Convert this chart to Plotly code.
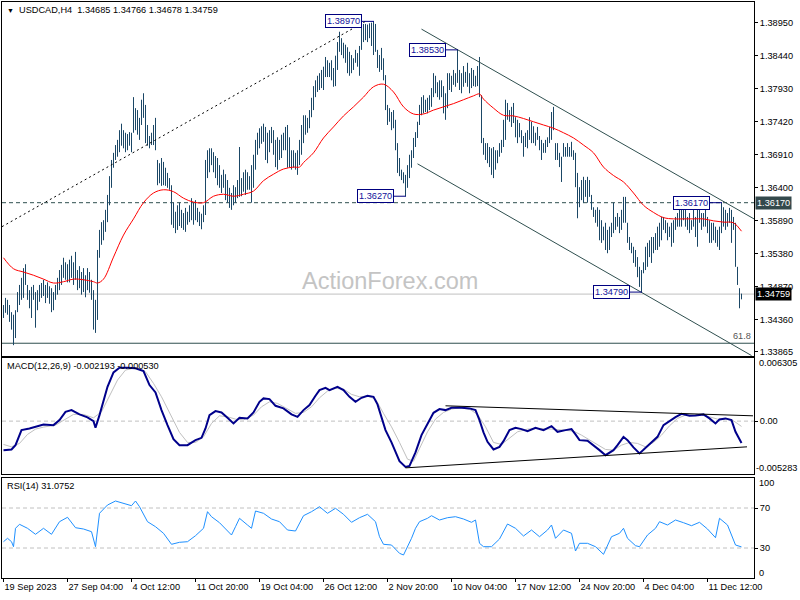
import plotly.graph_objects as go

# ---------------- DATA ----------------
HIGH = [1.3459,1.3470,1.3467,1.3459,1.3448,1.3444,1.3451,1.3479,1.3490,1.3501,
1.3516,1.3522,1.3490,1.3482,1.3487,1.3490,1.3479,1.3482,1.3490,1.3493,
1.3498,1.3490,1.3494,1.3488,1.3485,1.3479,1.3490,1.3501,1.3513,1.3521,
1.3532,1.3525,1.3522,1.3529,1.3535,1.3525,1.3541,1.3513,1.3519,1.3510,
1.3516,1.3505,1.3516,1.3510,1.3498,1.3482,1.3467,1.3544,1.3575,1.3587,
1.3590,1.3606,1.3629,1.3658,1.3683,1.3694,1.3706,1.3714,1.3729,1.3739,
1.3729,1.3725,1.3723,1.3726,1.3725,1.3780,1.3763,1.3760,1.3748,1.3776,
1.3786,1.3768,1.3737,1.3720,1.3725,1.3737,1.3748,1.3683,1.3678,1.3686,
1.3680,1.3671,1.3663,1.3655,1.3644,1.3617,1.3603,1.3613,1.3617,1.3606,
1.3601,1.3609,1.3603,1.3613,1.3624,1.3617,1.3621,1.3609,1.3603,1.3600,
1.3613,1.3683,1.3698,1.3701,1.3701,1.3695,1.3689,1.3686,1.3675,1.3660,
1.3668,1.3661,1.3652,1.3640,1.3632,1.3644,1.3641,1.3652,1.3703,1.3655,
1.3664,1.3668,1.3664,1.3658,1.3675,1.3691,1.3714,1.3725,1.3732,1.3735,
1.3739,1.3734,1.3725,1.3729,1.3734,1.3729,1.3714,1.3718,1.3714,1.3722,
1.3725,1.3734,1.3737,1.3718,1.3698,1.3698,1.3694,1.3698,1.3714,1.3737,
1.3752,1.3752,1.3748,1.3760,1.3779,1.3797,1.3806,1.3813,1.3817,1.3822,
1.3827,1.3842,1.3837,1.3833,1.3837,1.3825,1.3844,1.3865,1.3881,1.3871,
1.3864,1.3861,1.3857,1.3850,1.3845,1.3840,1.3853,1.3848,1.3859,1.3887,
1.3893,1.3893,1.3892,1.3894,1.3895,1.3897,1.3893,1.3853,1.3845,1.3856,
1.3840,1.3814,1.3768,1.3763,1.3757,1.3760,1.3745,1.3709,1.3686,1.3668,
1.3664,1.3660,1.3675,1.3691,1.3698,1.3717,1.3726,1.3742,1.3768,1.3780,
1.3783,1.3776,1.3779,1.3783,1.3794,1.3817,1.3813,1.3803,1.3806,1.3806,
1.3797,1.3786,1.3817,1.3817,1.3813,1.3822,1.3817,1.3853,1.3822,1.3817,
1.3828,1.3819,1.3833,1.3817,1.3825,1.3822,1.3813,1.3828,1.3842,1.3783,
1.3717,1.3709,1.3709,1.3703,1.3701,1.3703,1.3698,1.3698,1.3709,1.3714,
1.3745,1.3776,1.3771,1.3760,1.3765,1.3771,1.3749,1.3745,1.3740,1.3729,
1.3720,1.3725,1.3729,1.3749,1.3742,1.3735,1.3725,1.3734,1.3720,1.3714,
1.3709,1.3714,1.3718,1.3734,1.3757,1.3765,1.3709,1.3709,1.3694,1.3688,
1.3709,1.3703,1.3709,1.3703,1.3711,1.3698,1.3694,1.3663,1.3641,1.3652,
1.3657,1.3652,1.3657,1.3652,1.3629,1.3610,1.3606,1.3610,1.3606,1.3590,
1.3580,1.3586,1.3575,1.3580,1.3586,1.3617,1.3595,1.3601,1.3595,1.3606,
1.3626,1.3626,1.3586,1.3564,1.3555,1.3549,1.3544,1.3533,1.3518,1.3513,
1.3525,1.3549,1.3555,1.3559,1.3564,1.3564,1.3570,1.3580,1.3586,1.3595,
1.3595,1.3590,1.3586,1.3580,1.3586,1.3590,1.3595,1.3601,1.3606,1.3610,
1.3617,1.3610,1.3595,1.3601,1.3590,1.3606,1.3595,1.3610,1.3606,1.3601,
1.3601,1.3606,1.3595,1.3590,1.3586,1.3586,1.3580,1.3575,1.3580,1.3617,
1.3610,1.3606,1.3601,1.3609,1.3606,1.3595,1.3586,1.3518,1.3485,1.34766]

LOW = [1.3439,1.3447,1.3444,1.3433,1.3421,1.3397,1.3408,1.3448,1.3459,1.3467,
1.3470,1.3490,1.3467,1.3454,1.3439,1.3467,1.3424,1.3451,1.3464,1.3470,
1.3473,1.3462,1.3470,1.3461,1.3448,1.3451,1.3467,1.3475,1.3482,1.3490,
1.3501,1.3498,1.3494,1.3494,1.3501,1.3490,1.3498,1.3482,1.3485,1.3475,
1.3479,1.3471,1.3482,1.3478,1.3467,1.3421,1.3416,1.3436,1.3532,1.3552,
1.3559,1.3572,1.3587,1.3613,1.3640,1.3671,1.3683,1.3688,1.3695,1.3705,
1.3701,1.3695,1.3698,1.3705,1.3695,1.3725,1.3729,1.3722,1.3714,1.3737,
1.3748,1.3709,1.3705,1.3701,1.3706,1.3706,1.3698,1.3644,1.3647,1.3643,
1.3644,1.3643,1.3640,1.3637,1.3583,1.3578,1.3570,1.3575,1.3581,1.3578,
1.3575,1.3572,1.3583,1.3587,1.3590,1.3583,1.3590,1.3587,1.3581,1.3576,
1.3587,1.3598,1.3655,1.3664,1.3675,1.3664,1.3655,1.3644,1.3640,1.3632,
1.3640,1.3621,1.3617,1.3609,1.3606,1.3613,1.3617,1.3624,1.3626,1.3627,
1.3634,1.3629,1.3637,1.3637,1.3617,1.3640,1.3668,1.3691,1.3701,1.3708,
1.3711,1.3683,1.3678,1.3695,1.3709,1.3691,1.3672,1.3668,1.3683,1.3686,
1.3698,1.3698,1.3671,1.3672,1.3668,1.3671,1.3668,1.3660,1.3675,1.3691,
1.3709,1.3722,1.3725,1.3732,1.3749,1.3760,1.3780,1.3788,1.3791,1.3794,
1.3791,1.3811,1.3811,1.3811,1.3806,1.3796,1.3797,1.3822,1.3850,1.3845,
1.3840,1.3833,1.3817,1.3813,1.3817,1.3822,1.3833,1.3827,1.3813,1.3853,
1.3865,1.3868,1.3865,1.3871,1.3859,1.3845,1.3850,1.3825,1.3819,1.3822,
1.3806,1.3760,1.3737,1.3742,1.3729,1.3732,1.3698,1.3663,1.3658,1.3652,
1.3647,1.3627,1.3640,1.3655,1.3671,1.3686,1.3703,1.3717,1.3737,1.3752,
1.3755,1.3757,1.3755,1.3760,1.3765,1.3780,1.3786,1.3780,1.3776,1.3780,
1.3755,1.3745,1.3763,1.3791,1.3788,1.3799,1.3796,1.3802,1.3791,1.3786,
1.3796,1.3802,1.3796,1.3786,1.3794,1.3797,1.3796,1.3797,1.3780,1.3709,
1.3691,1.3683,1.3678,1.3672,1.3660,1.3655,1.3668,1.3678,1.3688,1.3694,
1.3703,1.3714,1.3745,1.3742,1.3734,1.3740,1.3718,1.3709,1.3718,1.3709,
1.3688,1.3703,1.3701,1.3714,1.3709,1.3709,1.3705,1.3714,1.3698,1.3683,
1.3694,1.3694,1.3703,1.3709,1.3714,1.3729,1.3683,1.3683,1.3672,1.3649,
1.3688,1.3688,1.3688,1.3688,1.3688,1.3683,1.3641,1.3593,1.3610,1.3621,
1.3617,1.3626,1.3617,1.3626,1.3606,1.3595,1.3586,1.3580,1.3559,1.3555,
1.3559,1.3544,1.3539,1.3544,1.3564,1.3570,1.3575,1.3580,1.3570,1.3575,
1.3586,1.3586,1.3555,1.3544,1.3539,1.3524,1.3518,1.3502,1.3487,1.3479,
1.3508,1.3513,1.3518,1.3533,1.3524,1.3539,1.3544,1.3544,1.3549,1.3559,
1.3575,1.3570,1.3559,1.3564,1.3549,1.3555,1.3575,1.3580,1.3580,1.3580,
1.3590,1.3580,1.3575,1.3570,1.3575,1.3580,1.3564,1.3549,1.3586,1.3575,
1.3580,1.3580,1.3570,1.3555,1.3555,1.3559,1.3555,1.3549,1.3544,1.3570,
1.3580,1.3575,1.3580,1.3586,1.3555,1.3575,1.3518,1.3490,1.3454,1.34678]

MA_IDX = [0,5,10,15,20,25,30,35,40,45,47,50,55,60,65,70,75,80,85,90,
95,100,105,110,115,120,125,130,135,140,145,148,150,155,160,165,170,175,180,185,
190,195,200,205,210,215,220,225,230,235,238,240,245,250,255,260,265,270,275,280,
285,290,295,300,305,310,315,320,325,330,335,340,345,350,355,360,365,369]
MA_VAL = [1.3532,1.3515,1.3510,1.3505,1.3499,1.3493,1.3495,1.3499,1.3498,1.3495,
1.3493,1.3499,1.3533,1.3567,1.3592,1.3617,1.3632,1.3637,1.3634,1.3624,
1.3618,1.3617,1.3627,1.3630,1.3627,1.3630,1.3635,1.3651,1.3661,1.3669,
1.3672,1.3672,1.3679,1.3694,1.3717,1.3734,1.3751,1.3765,1.3780,1.3796,
1.3800,1.3788,1.3765,1.3754,1.3754,1.3760,1.3765,1.3770,1.3776,1.3782,
1.3785,1.3777,1.3763,1.3752,1.3751,1.3747,1.3742,1.3737,1.3732,1.3725,
1.3717,1.3706,1.3694,1.3672,1.3659,1.3649,1.3632,1.3613,1.3602,1.3594,
1.3592,1.3592,1.3592,1.3592,1.3589,1.3587,1.3586,1.3573]

MACD_IDX = [0,4,6,9,13,16,20,25,28,31,34,38,42,45,46,48,52,55,58,62,
66,70,73,76,79,82,85,88,92,96,99,101,103,106,109,112,115,118,122,125,
128,130,133,136,140,144,147,150,153,156,158,161,163,167,170,173,176,179,182,185,
187,191,194,198,201,203,206,209,212,215,218,221,224,228,233,236,238,240,242,245,
248,250,253,256,259,262,266,270,274,277,281,284,286,288,292,295,298,301,305,307,
310,312,315,318,321,324,327,330,333,336,339,343,346,350,353,356,358,361,364,366,369]
MACD_VAL = [-0.00290,-0.00283,-0.00240,-0.00090,-0.00073,-0.00057,-0.00033,-0.00040,0.00010,0.00093,
0.00110,0.00067,0.00037,0.00000,-0.00067,0.00060,0.00343,0.00487,0.00533,0.00533,
0.00527,0.00500,0.00360,0.00287,0.00110,-0.00040,-0.00180,-0.00240,-0.00240,-0.00190,
-0.00167,-0.00073,0.00060,0.00100,0.00087,0.00033,-0.00023,0.00033,0.00027,0.00087,
0.00193,0.00227,0.00220,0.00153,0.00127,0.00067,0.00043,0.00110,0.00160,0.00253,
0.00310,0.00333,0.00310,0.00343,0.00310,0.00243,0.00193,0.00233,0.00253,0.00243,
0.00167,-0.00090,-0.00213,-0.00400,-0.00457,-0.00447,-0.00313,-0.00140,-0.00023,0.00083,
0.00120,0.00110,0.00133,0.00137,0.00127,0.00110,0.00010,-0.00113,-0.00207,-0.00283,
-0.00257,-0.00200,-0.00090,-0.00067,-0.00080,-0.00100,-0.00067,-0.00090,-0.00050,-0.00107,
-0.00090,-0.00080,-0.00133,-0.00190,-0.00197,-0.00240,-0.00290,-0.00340,-0.00290,-0.00240,
-0.00157,-0.00190,-0.00263,-0.00323,-0.00267,-0.00213,-0.00157,-0.00040,0.00003,0.00040,
0.00073,0.00053,0.00057,0.00067,0.00027,-0.00023,0.00017,0.00027,0.00010,-0.00107,-0.002193]

SIG_IDX = [0,4,8,12,16,20,26,30,35,40,45,49,53,57,61,66,71,75,79,84,
88,92,96,100,104,108,112,116,120,125,129,133,137,141,146,150,154,158,162,166,
170,174,178,182,186,190,194,198,202,205,208,212,216,220,224,228,233,237,241,245,
249,253,257,262,268,274,280,285,289,293,297,301,305,309,313,317,321,325,329,333,
337,341,345,349,353,357,361,365,369]
SIG_VAL = [-0.00233,-0.00257,-0.00223,-0.00133,-0.00080,-0.00060,-0.00040,0.00010,0.00067,0.00067,
0.00033,0.00093,0.00260,0.00410,0.00510,0.00533,0.00493,0.00377,0.00243,0.00053,
-0.00113,-0.00213,-0.00213,-0.00157,-0.00023,0.00053,0.00043,0.00020,0.00013,0.00060,
0.00143,0.00193,0.00177,0.00133,0.00077,0.00087,0.00143,0.00233,0.00300,0.00327,
0.00320,0.00267,0.00243,0.00250,0.00220,0.00077,-0.00057,-0.00213,-0.00380,-0.00400,
-0.00280,-0.00107,0.00020,0.00087,0.00120,0.00133,0.00120,0.00067,-0.00057,-0.00213,
-0.00233,-0.00173,-0.00107,-0.00080,-0.00073,-0.00080,-0.00090,-0.00100,-0.00140,-0.00190,
-0.00233,-0.00283,-0.00290,-0.00240,-0.00213,-0.00223,-0.00257,-0.00213,-0.00140,-0.00047,
0.00027,0.00060,0.00060,0.00060,0.00043,0.00020,0.00020,0.00003,-0.000530]

RSI_IDX = [0,2,4,5,6,8,12,16,20,24,28,32,36,40,44,46,48,52,56,60,
64,66,68,72,76,80,84,88,92,96,100,102,104,108,112,114,116,118,122,124,
126,130,134,138,142,146,150,154,158,162,166,170,174,178,182,186,188,190,194,198,
200,202,204,206,208,212,214,218,222,226,230,234,236,238,240,244,248,252,256,260,
264,268,272,274,276,280,284,286,288,292,296,300,304,308,310,312,316,318,322,326,
328,332,336,340,344,348,352,356,358,362,364,366,369]
RSI_VAL = [36.3,39.7,36.3,31.3,49.7,53.7,49.7,43.7,49.7,43.7,56.3,60.7,50.3,49.0,46.3,31.3,64.7,73.0,77.0,74.3,
72.3,77.0,71.3,56.3,51.3,44.7,33.7,35.7,36.3,42.3,49.7,66.3,61.3,55.3,47.0,43.0,51.3,59.7,53.0,49.7,
67.0,64.7,59.0,56.3,48.0,47.0,62.3,66.3,71.3,64.7,69.7,63.7,55.7,60.3,63.7,56.3,41.3,33.7,33.0,24.7,
23.0,31.3,39.7,49.7,56.3,59.7,62.3,58.0,60.3,61.3,59.0,55.7,58.0,34.7,31.3,31.3,39.0,54.0,49.7,42.0,
48.0,41.3,48.0,53.0,39.7,48.0,44.7,27.0,34.7,34.7,31.3,23.7,41.3,44.7,49.7,39.7,32.3,31.3,43.0,49.7,
56.3,53.0,58.0,55.3,52.3,55.7,49.0,40.3,59.7,53.0,43.7,33.0,31.0752]

PRICE_TICKS = [1.38950, 1.38440, 1.37930, 1.37420, 1.36910, 1.36400,
               1.35890, 1.35380, 1.34870, 1.34360, 1.33865]
TIME_IDX = [0, 32, 64, 96, 128, 160, 192, 224, 256, 288, 320, 352]
TIME_LABELS = ["19 Sep 2023", "27 Sep 04:00", "4 Oct 12:00", "11 Oct 20:00",
               "19 Oct 04:00", "26 Oct 12:00", "2 Nov 20:00", "10 Nov 04:00",
               "17 Nov 12:00", "24 Nov 20:00", "4 Dec 04:00", "11 Dec 12:00"]
LAST_OHLC = [1.34685, 1.34766, 1.34678, 1.34759]
MACD_LAST, SIGNAL_LAST, RSI_LAST = -0.002193, -0.000530, 31.0752
MACD_MAX, MACD_MIN = 0.006305, -0.005283

# labelled swing points (bar index, price)
SWING_IDX = [185, 227, 201, 359, 319]
SWING_PRICE = [1.38970, 1.38530, 1.36270, 1.36170, 1.34790]
RES_LEVEL = 1.36170
FIB_LEVEL = 1.3400
# trendlines: (bar0, price0, bar1, price1)
DOTTED_TL = [-0.75, 1.3580, 181, 1.3897]
UPPER_CH = [209, 1.3885, 375.25, 1.3592]
LOWER_CH = [207, 1.3677, 374, 1.3381]
MACD_UP_TL = [221, 0.00153, 374.75, 0.00053]
MACD_LO_TL = [201, -0.00467, 371.75, -0.00257]

# ---------------- FIGURE ----------------
N = len(HIGH)
bx, by = [], []
for i in range(N):
    bx += [i, i, None]
    by += [LOW[i], HIGH[i], None]

BAR_COL = "#1b4766"
fig = go.Figure()
fig.add_trace(go.Scatter(x=bx, y=by, mode="lines", line=dict(color=BAR_COL, width=1),
                         xaxis="x", yaxis="y", hoverinfo="skip"))
fig.add_trace(go.Scatter(x=MA_IDX, y=MA_VAL, mode="lines", line=dict(color="#ff0000", width=1, shape="spline"),
                         xaxis="x", yaxis="y"))
fig.add_trace(go.Scatter(x=SIG_IDX, y=SIG_VAL, mode="lines", line=dict(color="#c0c0c0", width=1),
                         xaxis="x2", yaxis="y2"))
fig.add_trace(go.Scatter(x=MACD_IDX, y=MACD_VAL, mode="lines", line=dict(color="#00008b", width=2),
                         xaxis="x2", yaxis="y2"))
fig.add_trace(go.Scatter(x=RSI_IDX, y=RSI_VAL, mode="lines", line=dict(color="#1e90ff", width=1),
                         xaxis="x3", yaxis="y3"))

XR = [-0.75, 375.25]
FONT = "Liberation Sans, Arial, sans-serif"
FS = 9.2
axc = dict(showgrid=False, zeroline=False, showline=True, mirror=True,
           linecolor="black", linewidth=1)
yc = dict(side="right", ticks="outside", ticklen=3, tickcolor="black",
          tickfont=dict(family=FONT, size=FS, color="black"), **axc)

fig.update_layout(
    width=800, height=600, margin=dict(l=2, r=46, t=2, b=22),
    paper_bgcolor="white", plot_bgcolor="white", showlegend=False,
    font=dict(family=FONT, size=FS, color="black"),
    xaxis=dict(domain=[0, 1], range=XR, anchor="y", showticklabels=False, ticks="", **axc),
    xaxis2=dict(domain=[0, 1], range=XR, anchor="y2", showticklabels=False, ticks="", **axc),
    xaxis3=dict(domain=[0, 1], range=XR, anchor="y3", tickvals=TIME_IDX, ticktext=TIME_LABELS,
                ticks="outside", ticklen=3, tickcolor="black", ticklabelposition="outside right",
                tickfont=dict(family=FONT, size=FS, color="black"), **axc),
    yaxis=dict(domain=[0.38542, 1], range=[1.33803, 1.39269], tickvals=PRICE_TICKS,
               ticktext=["%.5f" % v for v in PRICE_TICKS], anchor="x", **yc),
    yaxis2=dict(domain=[0.18056, 0.38194], range=[MACD_MIN, MACD_MAX], tickvals=[0],
                ticktext=["0.00"], anchor="x2", **yc),
    yaxis3=dict(domain=[0, 0.17361], range=[0, 100], tickvals=[30, 70], ticktext=["30", "70"],
                anchor="x3", **yc),
)

shapes = []
def hline(y, yref, color, dash="solid"):
    shapes.append(dict(type="line", xref="x", yref=yref, x0=XR[0], x1=XR[1], y0=y, y1=y,
                       line=dict(color=color, width=1, dash=dash), layer="below"))
hline(RES_LEVEL, "y", "#2f4f4f", "4px,3px")
hline(FIB_LEVEL, "y", "#2f4f4f")
hline(LAST_OHLC[3], "y", "#c0c0c0")
hline(0, "y2", "#c0c0c0", "4px,3px")
hline(30, "y3", "#c0c0c0", "4px,3px")
hline(70, "y3", "#c0c0c0", "4px,3px")

def tl(seg, yref, color, dash="solid"):
    shapes.append(dict(type="line", xref="x", yref=yref, x0=seg[0], y0=seg[1], x1=seg[2], y1=seg[3],
                       line=dict(color=color, width=1, dash=dash)))
tl(DOTTED_TL, "y", "black", "2px,3px")
tl(UPPER_CH, "y", "#2f4f4f")
tl(LOWER_CH, "y", "#2f4f4f")
tl(MACD_UP_TL, "y2", "black")
tl(MACD_LO_TL, "y2", "black")
fig.update_layout(shapes=shapes)

ann = []
def px_x(p):
    return (p - 2) / 752.0
def px_y(p):
    return (578 - p) / 576.0

ann.append(dict(xref="paper", yref="paper", x=px_x(300), y=px_y(281), xanchor="left", yanchor="middle",
                text="ActionForex.com", showarrow=False,
                font=dict(family=FONT, size=23.5, color="#c4c4c4")))
ann.append(dict(xref="paper", yref="paper", x=px_x(5), y=px_y(10), xanchor="left", yanchor="middle",
                text="<span style='font-size:7px'>\u25bc</span>\u00a0\u00a0USDCAD,H4\u00a0\u00a0" +
                     " ".join("%.5f" % v for v in LAST_OHLC),
                showarrow=False, font=dict(family=FONT, size=FS, color="black")))
ann.append(dict(xref="paper", yref="paper", x=px_x(5), y=px_y(366), xanchor="left", yanchor="middle",
                text="MACD(12,26,9) %.6f %.6f" % (MACD_LAST, SIGNAL_LAST),
                showarrow=False, font=dict(family=FONT, size=FS, color="black")))
ann.append(dict(xref="paper", yref="paper", x=px_x(5), y=px_y(485.5), xanchor="left", yanchor="middle",
                text="RSI(14) %.4f" % RSI_LAST,
                showarrow=False, font=dict(family=FONT, size=FS, color="black")))

for bi, pr in zip(SWING_IDX, SWING_PRICE):
    ann.append(dict(xref="x", yref="y", x=bi + 0.25, y=pr, text="%.5f" % pr, showarrow=True,
                    ax=-31, ay=0, arrowhead=0, arrowwidth=1, arrowcolor="#000080", standoff=0,
                    bgcolor="white", bordercolor="#000080", borderwidth=1, borderpad=1,
                    font=dict(family=FONT, size=FS, color="#10109a")))

for pr, bg in [(RES_LEVEL, "#34494c"), (LAST_OHLC[3], "black")]:
    ann.append(dict(xref="paper", yref="y", x=1, y=pr, xanchor="left", yanchor="middle", xshift=1,
                    text="%.5f" % pr, showarrow=False, bgcolor=bg, borderpad=1,
                    font=dict(family=FONT, size=FS, color="white")))

ann.append(dict(xref="paper", yref="y", x=1, y=FIB_LEVEL, xanchor="right", yanchor="bottom",
                xshift=-1, text="61.8", showarrow=False, font=dict(family=FONT, size=FS, color="#555555")))

ann.append(dict(xref="paper", yref="paper", x=1, y=px_y(363), xanchor="left", yanchor="middle", xshift=3,
                text="%.6f" % MACD_MAX, showarrow=False, font=dict(family=FONT, size=FS, color="black")))
ann.append(dict(xref="paper", yref="paper", x=1, y=px_y(468), xanchor="left", yanchor="middle", xshift=0,
                text="%.6f" % MACD_MIN, showarrow=False, font=dict(family=FONT, size=FS, color="black")))
ann.append(dict(xref="paper", yref="paper", x=1, y=px_y(483), xanchor="left", yanchor="middle", xshift=3,
                text="100", showarrow=False, font=dict(family=FONT, size=FS, color="black")))
ann.append(dict(xref="paper", yref="paper", x=1, y=px_y(573), xanchor="left", yanchor="middle", xshift=3,
                text="0", showarrow=False, font=dict(family=FONT, size=FS, color="black")))

fig.update_layout(annotations=ann)
fig.write_html("out.html", config={"displayModeBar": False},
               post_script="document.body.style.margin='0';document.body.style.padding='0';")
